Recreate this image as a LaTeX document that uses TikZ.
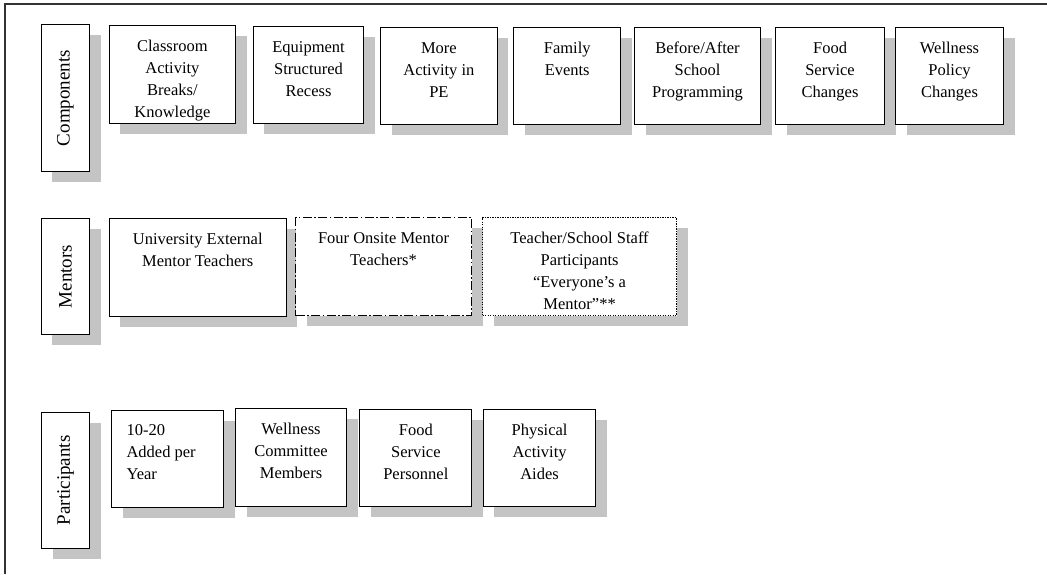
\documentclass[tikz,border=0pt]{standalone}
\usepackage{fontspec}
\usepackage{graphicx}
\setmainfont{Liberation Serif}
\usetikzlibrary{shadows}
\definecolor{shade}{HTML}{C4C4C4}
\definecolor{frameline}{HTML}{333333}
\tikzset{
  card/.style={draw=black, line width=1.1pt, fill=white, inner sep=0pt,
    anchor=north west,
    drop shadow={shadow xshift=11pt, shadow yshift=-10.5pt, fill=shade, opacity=1}},
  tag/.style={card, font=\fontsize{19}{22}\selectfont},
  dashdot/.style={dash pattern=on 9pt off 2.5pt on 1.5pt off 2.5pt},
  dotline/.style={dash pattern=on 1.2pt off 1.3pt},
}
% width, height, lines (centred, first baseline 26pt below the top edge)
\newcommand\cardtext[3]{\parbox[c][#2pt][t]{#1pt}{\centering\fontsize{16.5}{22}\selectfont\rule{0pt}{26pt}#3\par}}
% same, but left aligned with a 15pt indent
\newcommand\cardleft[3]{\parbox[c][#2pt][t]{#1pt}{\raggedright\leftskip=15pt\fontsize{16.5}{22}\selectfont\rule{0pt}{25pt}#3\par}}
\begin{document}
\begin{tikzpicture}[x=1pt,y=-1pt]
\useasboundingbox (0,0) rectangle (1047,574);
% open frame: top and left edges
\coordinate (ftr) at (1047,4);
\coordinate (ftl) at (5,4);
\coordinate (fbl) at (5,574);
\draw[frameline, line width=1.3pt] (ftr) -- (ftl) -- (fbl);

% ---- Components row
\node[tag] (comp) at (40.7,24) {\parbox[c][147pt][c]{48.3pt}{\centering\rotatebox{90}{Components}}};
\node[card] (c1) at (108.7,25) {\cardtext{126.3}{98}{Classroom\\Activity\\Breaks/\\Knowledge}};
\node[card] (c2) at (252.7,25.7) {\cardtext{110.6}{97.6}{Equipment\\Structured\\Recess}};
\node[card] (c3) at (380,27) {\cardtext{116.7}{97}{More\\Activity in\\PE}};
\node[card] (c4) at (513.3,27) {\cardtext{106.7}{97}{Family\\Events}};
\node[card] (c5) at (634,27) {\cardtext{126}{97}{Before/After\\School\\Programming}};
\node[card] (c6) at (775,27) {\cardtext{109}{97}{Food\\Service\\Changes}};
\node[card] (c7) at (895,27) {\cardtext{108}{97}{Wellness\\Policy\\Changes}};

% ---- Mentors row
\node[tag] (ment) at (40.7,218) {\parbox[c][116pt][c]{48.3pt}{\centering\rotatebox{90}{Mentors}}};
\node[card] (m1) at (108.7,218) {\cardtext{177}{97.7}{University External\\Mentor Teachers}};
\node[card, dashdot] (m2) at (295,217) {\cardtext{176}{98}{Four Onsite Mentor\\Teachers*}};
\node[card, dotline] (m3) at (482,217) {\cardtext{194}{98}{Teacher/School Staff\\Participants\\“Everyone’s a\\Mentor”**}};

% ---- Participants row
\node[tag] (part) at (41,411.7) {\parbox[c][136pt][c]{48.3pt}{\centering\rotatebox{90}{Participants}}};
\node[card] (p1) at (111,410) {\cardleft{112.3}{97}{10-20\\Added per\\Year}};
\node[card] (p2) at (235,408) {\cardtext{111}{98}{Wellness\\Committee\\Members}};
\node[card] (p3) at (359.3,409) {\cardtext{112}{97}{Food\\Service\\Personnel}};
\node[card] (p4) at (482.7,409) {\cardtext{112.6}{97}{Physical\\Activity\\Aides}};
\end{tikzpicture}
\end{document}
